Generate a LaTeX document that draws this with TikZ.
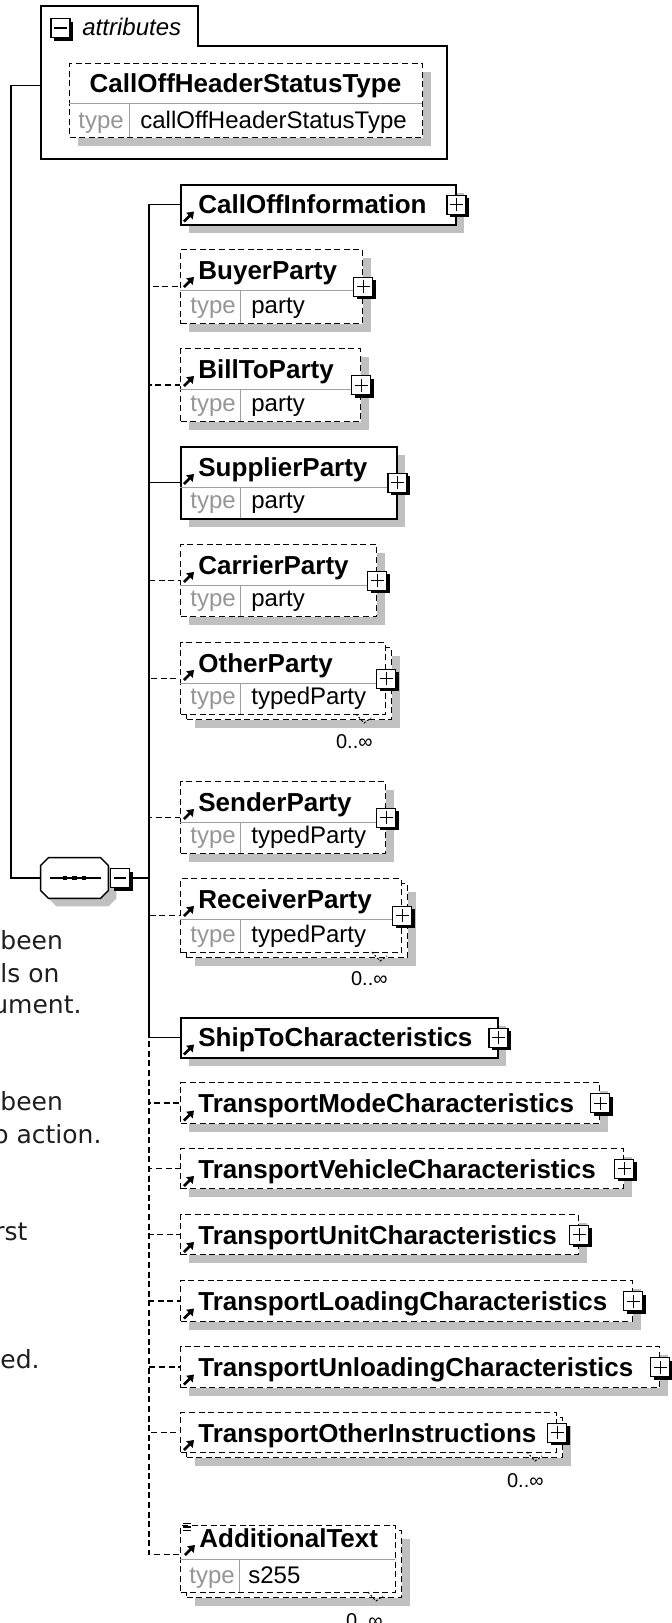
\documentclass[tikz,border=0pt]{standalone}
\usepackage{fontspec}
\setmainfont{Liberation Sans}
\newfontfamily\notefont{DejaVu Sans}
\usetikzlibrary{shadows,arrows.meta}
\definecolor{shadowgray}{RGB}{192,192,192}
\definecolor{sepgray}{RGB}{160,160,160}
\definecolor{keygray}{RGB}{150,150,150}
\definecolor{notetext}{RGB}{30,30,30}

\begin{document}
\begin{tikzpicture}[x=0.5pt, y=-0.5pt]

    % estilos
    \tikzstyle{elbase}=[rectangle, draw, fill=white, inner sep=0pt, anchor=north west, line width=0.75pt]
    \tikzstyle{elsolid}=[elbase, drop shadow={shadow xshift=4pt, shadow yshift=-4pt, fill=shadowgray, opacity=1}]
    \tikzstyle{elopt}=[elsolid, dash pattern=on 3pt off 1.8pt, line width=0.65pt]
    \tikzstyle{elfront}=[elbase, dash pattern=on 3pt off 1.8pt, line width=0.65pt]
    \tikzstyle{eltitle}=[anchor=base west, inner sep=0pt, font=\fontsize{13}{15}\selectfont\bfseries]
    \tikzstyle{tkey}=[anchor=base west, inner sep=0pt, font=\fontsize{12}{14}\selectfont, text=keygray]
    \tikzstyle{tval}=[anchor=base west, inner sep=0pt, font=\fontsize{12}{14}\selectfont]
    \tikzstyle{occ}=[anchor=base east, inner sep=0pt, font=\fontsize{10}{12}\selectfont]
    \tikzstyle{nota}=[anchor=base west, inner sep=0pt, font=\notefont\fontsize{12.5}{15}\selectfont, text=notetext]
    \tikzstyle{sepline}=[line width=0.5pt, sepgray]
    \tikzstyle{conn}=[line width=0.7pt]
    \tikzstyle{connopt}=[conn, dash pattern=on 3pt off 1.8pt]
    \tikzstyle{occtick}=[line width=0.5pt, dash pattern=on 1pt off 1pt]
    \tikzstyle{refarrow}=[line width=1.3pt, -{Triangle[length=3.2pt,width=4.4pt]}]
    \tikzstyle{expbox}=[rectangle, draw, fill=white, line width=0.6pt, minimum size=9.5pt, inner sep=0pt,
      drop shadow={shadow xshift=1.5pt, shadow yshift=-1.5pt, fill=black, opacity=1},
      path picture={\draw[line width=0.6pt] (path picture bounding box.center) +(-3.2pt,0pt) -- +(3.2pt,0pt)
        +(0pt,-3.2pt) -- +(0pt,3.2pt);}]
    \tikzstyle{colbox}=[rectangle, draw, fill=white, line width=0.6pt, minimum size=9.5pt, inner sep=0pt,
      drop shadow={shadow xshift=1.5pt, shadow yshift=-1.5pt, fill=black, opacity=1},
      path picture={\draw[line width=0.6pt] (path picture bounding box.center) +(-3.2pt,0pt) -- +(3.2pt,0pt);}]

    \useasboundingbox (0,0) rectangle (672,1623);

    %======================= ATRIBUTOS =======================
    \node[rectangle, fill=white, inner sep=0pt, anchor=north west, minimum width=202.5pt, minimum height=56pt] (attr) at (41,46) {};
    \node[rectangle, inner sep=0pt, anchor=south west, minimum width=78pt, minimum height=19.5pt] (attrtab) at (attr.north west) {};
    \draw[line width=0.75pt] (attrtab.south east) -- (attrtab.north east) -- (attrtab.north west)
      -- (attr.south west) -- (attr.south east) -- (attr.north east) -- cycle;
    \node[colbox] (attr-m) at (60.5,28) {};
    \node[anchor=base west, inner sep=0pt, font=\fontsize{12}{14}\selectfont\itshape] (attr-l) at (82,35) {attributes};

    \node[elopt, minimum width=176.5pt, minimum height=37pt] (cohst) at (69,63) {};
    \draw[sepline] (69,103) -- (422,103);
    \draw[sepline] (129,103) -- (129,137);
    \node[eltitle, anchor=base] (cohst-t) at (245.5,92) {CallOffHeaderStatusType};
    \node[tkey] (cohst-k) at (78,128) {type};
    \node[tval] (cohst-v) at (140,128) {callOffHeaderStatusType};

    %======================= SEQUENCIA =======================
    \node[rectangle, inner sep=0pt, minimum width=33.5pt, minimum height=20pt] (seq) at (74.5,878) {};
    \path[draw, fill=white, line width=0.7pt, drop shadow={shadow xshift=4pt, shadow yshift=-4pt, fill=shadowgray, opacity=1}]
      ([xshift=4pt]seq.north west) -- ([xshift=-4pt]seq.north east) -- ([yshift=-4pt]seq.north east)
      -- ([yshift=4pt]seq.south east) -- ([xshift=-4pt]seq.south east) -- ([xshift=4pt]seq.south west)
      -- ([yshift=4pt]seq.south west) -- ([yshift=-4pt]seq.north west) -- cycle;
    \draw[line width=0.7pt] ([xshift=-12.25pt]seq.center) -- ([xshift=13.25pt]seq.center);
    \foreach \dx in {-4.75,0,4.75}
      \fill ([xshift=\dx pt]seq.center) +(-1.2pt,-1.2pt) rectangle +(1.2pt,1.2pt);
    \node[colbox] (seq-m) at (120,878) {};

    %======================= ELEMENTOS =======================
    % CallOffInformation
    \node[elsolid, minimum width=137.5pt, minimum height=20pt] (calloff) at (180,184) {};
    \node[eltitle] (calloff-t) at (198,213.5) {CallOffInformation};
    \node[expbox] (calloff-x) at (calloff.east) {};

    % BuyerParty
    \node[elopt, minimum width=91pt, minimum height=37pt] (buyer) at (180,249) {};
    \draw[sepline] (180,290) -- (362,290);
    \draw[sepline] (240,290) -- (240,323);
    \node[eltitle] (buyer-t) at (198,279) {BuyerParty};
    \node[tkey] (buyer-k) at (190,313) {type};
    \node[tval] (buyer-v) at (251,313) {party};
    \node[expbox] (buyer-x) at (buyer.east) {};

    % BillToParty
    \node[elopt, minimum width=90pt, minimum height=36.5pt] (billto) at (180,348) {};
    \draw[sepline] (180,389) -- (360,389);
    \draw[sepline] (240,389) -- (240,421);
    \node[eltitle] (billto-t) at (198,378) {BillToParty};
    \node[tkey] (billto-k) at (190,411) {type};
    \node[tval] (billto-v) at (251,411) {party};
    \node[expbox] (billto-x) at (billto.east) {};

    % SupplierParty
    \node[elsolid, minimum width=108pt, minimum height=36pt] (supplier) at (180,446) {};
    \draw[sepline] (180,487) -- (396,487);
    \draw[sepline] (240,487) -- (240,518);
    \node[eltitle] (supplier-t) at (198,476) {SupplierParty};
    \node[tkey] (supplier-k) at (190,508) {type};
    \node[tval] (supplier-v) at (251,508) {party};
    \node[expbox] (supplier-x) at (supplier.east) {};

    % CarrierParty
    \node[elopt, minimum width=98pt, minimum height=36pt] (carrier) at (180,544) {};
    \draw[sepline] (180,585) -- (376,585);
    \draw[sepline] (240,585) -- (240,616);
    \node[eltitle] (carrier-t) at (198,574) {CarrierParty};
    \node[tkey] (carrier-k) at (190,606) {type};
    \node[tval] (carrier-v) at (251,606) {party};
    \node[expbox] (carrier-x) at (carrier.east) {};

    % OtherParty (0..n)
    \node[elopt, minimum width=102.5pt, minimum height=36pt] (other-b) at (186,647) {};
    \node[elfront, minimum width=102.5pt, minimum height=36pt] (other) at (180,642) {};
    \draw[sepline] (180,683) -- (385,683);
    \draw[sepline] (240,683) -- (240,714);
    \node[eltitle] (other-t) at (198,672) {OtherParty};
    \node[tkey] (other-k) at (190,704) {type};
    \node[tval] (other-v) at (251,704) {typedParty};
    \node[expbox] (other-x) at (other.east) {};
    \draw[occtick] (356,714) -- (364,723) -- (371,718);
    \node[occ] (other-o) at (373,748) {0..∞};

    % SenderParty
    \node[elopt, minimum width=102.5pt, minimum height=36pt] (sender) at (180,781) {};
    \draw[sepline] (180,822) -- (385,822);
    \draw[sepline] (240,822) -- (240,853);
    \node[eltitle] (sender-t) at (198,811) {SenderParty};
    \node[tkey] (sender-k) at (190,843) {type};
    \node[tval] (sender-v) at (251,843) {typedParty};
    \node[expbox] (sender-x) at (sender.east) {};

    % ReceiverParty (0..n)
    \node[elopt, minimum width=110.5pt, minimum height=37pt] (receiver-b) at (186,883) {};
    \node[elfront, minimum width=110.5pt, minimum height=37pt] (receiver) at (180,878) {};
    \draw[sepline] (180,919) -- (401,919);
    \draw[sepline] (240,919) -- (240,952);
    \node[eltitle] (receiver-t) at (198,908) {ReceiverParty};
    \node[tkey] (receiver-k) at (190,942) {type};
    \node[tval] (receiver-v) at (251,942) {typedParty};
    \node[expbox] (receiver-x) at (receiver.east) {};
    \draw[occtick] (372,952) -- (380,961) -- (387,956);
    \node[occ] (receiver-o) at (388,985) {0..∞};

    % ShipToCharacteristics
    \node[elsolid, minimum width=158.5pt, minimum height=20pt] (shipto) at (180,1017) {};
    \node[eltitle] (shipto-t) at (198,1046.5) {ShipToCharacteristics};
    \node[expbox] (shipto-x) at (shipto.east) {};

    % Transport...
    \node[elopt, minimum width=209.5pt, minimum height=20.5pt] (tmode) at (180,1082) {};
    \node[eltitle] (tmode-t) at (198,1112.5) {TransportModeCharacteristics};
    \node[expbox] (tmode-x) at (tmode.east) {};

    \node[elopt, minimum width=221.5pt, minimum height=20pt] (tvehicle) at (180,1148) {};
    \node[eltitle] (tvehicle-t) at (198,1178) {TransportVehicleCharacteristics};
    \node[expbox] (tvehicle-x) at (tvehicle.east) {};

    \node[elopt, minimum width=199pt, minimum height=20pt] (tunit) at (180,1214) {};
    \node[eltitle] (tunit-t) at (198,1244) {TransportUnitCharacteristics};
    \node[expbox] (tunit-x) at (tunit.east) {};

    \node[elopt, minimum width=226pt, minimum height=20.5pt] (tloading) at (180,1280) {};
    \node[eltitle] (tloading-t) at (198,1310.5) {TransportLoadingCharacteristics};
    \node[expbox] (tloading-x) at (tloading.east) {};

    \node[elopt, minimum width=239.5pt, minimum height=20.5pt] (tunloading) at (180,1346) {};
    \node[eltitle] (tunloading-t) at (198,1376.5) {TransportUnloadingCharacteristics};
    \node[expbox] (tunloading-x) at (tunloading.east) {};

    % TransportOtherInstructions (0..n)
    \node[elopt, minimum width=188pt, minimum height=20pt] (tother-b) at (186,1417) {};
    \node[elfront, minimum width=188pt, minimum height=20pt] (tother) at (180,1412) {};
    \node[eltitle] (tother-t) at (198,1442) {TransportOtherInstructions};
    \node[expbox] (tother-x) at (tother.east) {};
    \draw[occtick] (527,1452) -- (535,1461) -- (542,1456);
    \node[occ] (tother-o) at (544,1487) {0..∞};

    % AdditionalText (0..n, tipo simples)
    \node[elopt, minimum width=107.5pt, minimum height=33.5pt] (addtext-b) at (186,1530) {};
    \node[elfront, minimum width=107.5pt, minimum height=33.5pt] (addtext) at (180,1525) {};
    \draw[sepline] (180,1559) -- (395,1559);
    \draw[sepline] (239,1559) -- (239,1592);
    \node[eltitle] (addtext-t) at (199,1547) {AdditionalText};
    \node[tkey] (addtext-k) at (189,1583) {type};
    \node[tval] (addtext-v) at (248,1583) {s255};
    \foreach \yy in {1523.5,1527,1530.5}
      \draw[line width=0.6pt] (183,\yy) -- (191,\yy);
    \draw[occtick] (368,1592) -- (376,1601) -- (383,1596);
    \node[occ] (addtext-o) at (383,1627) {0..∞};

    % setas de referencia
    \foreach \n in {calloff,buyer,billto,supplier,carrier,other,sender,receiver,shipto,
                    tmode,tvehicle,tunit,tloading,tunloading,tother,addtext}
      \draw[refarrow] ([xshift=-7pt,yshift=-4pt]\n-t.base west) -- ++(5pt,5pt);

    %======================= LIGACOES =======================
    \coordinate (jct) at (149,878);
    \draw[conn] ([yshift=8.5pt]attr.west) -- ++(-15pt,0pt) |- (seq.west);
    \draw[conn] (seq-m.east) -- (jct);
    \draw[conn] (jct) |- (calloff.west);
    \draw[conn] (jct) |- (supplier.west);
    \draw[conn] (jct) |- (shipto.west);
    \draw[connopt] (jct) |- (buyer.west);
    \draw[connopt] (jct) |- (billto.west);
    \draw[connopt] (jct) |- (carrier.west);
    \draw[connopt] (jct) |- (other.west);
    \draw[connopt] (jct) |- (sender.west);
    \draw[connopt] (jct) |- (receiver.west);
    \draw[connopt] (jct) |- (tmode.west);
    \draw[connopt] (jct) |- (tvehicle.west);
    \draw[connopt] (jct) |- (tunit.west);
    \draw[connopt] (jct) |- (tloading.west);
    \draw[connopt] (jct) |- (tunloading.west);
    \draw[connopt] (jct) |- (tother.west);
    \draw[connopt] (jct) |- ([yshift=2.25pt]addtext.west);

    % texto ao lado (cortado)
    \node[nota] (n1) at (0,949) {been};
    \node[nota] (n2) at (0,982) {ls on};
    \node[nota] (n3) at (-8,1013) {ument.};
    \node[nota] (n4) at (0,1110) {been};
    \node[nota] (n5) at (-7,1143) {o action.};
    \node[nota] (n6) at (-6,1240) {rst};
    \node[nota] (n7) at (0,1368) {ed.};

\end{tikzpicture}
\end{document}
